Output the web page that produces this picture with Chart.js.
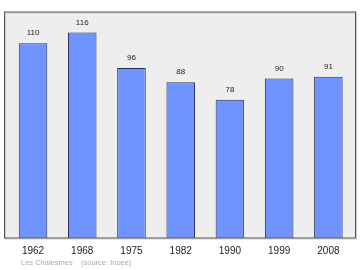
<!DOCTYPE html>
<html>
<head>
<meta charset="utf-8">
<script src="https://cdn.jsdelivr.net/npm/chart.js@4"></script>
<style>
  html, body { margin: 0; padding: 0; background: #fff; }
  #wrap { width: 360px; height: 270px; }
</style>
</head>
<body>
<div id="wrap"><canvas id="popChart" width="360" height="270"></canvas></div>
<script>
const years = ['1962', '1968', '1975', '1982', '1990', '1999', '2008'];
const population = [110, 116, 96, 88, 78, 90, 91];
const caption = 'Les Chalesmes    (source: Insee)';

const fontName = '"Liberation Sans", Arial, sans-serif';

// plot frame + light background, a bit wider than the bar area
const framePlugin = {
  id: 'frame',
  beforeDatasetsDraw(chart) {
    const { ctx, chartArea: a } = chart;
    const left = 4.5, right = 355.5;
    ctx.save();
    ctx.fillStyle = '#eeeeee';
    ctx.fillRect(left, a.top, right - left, a.bottom - a.top);
    ctx.restore();
  },
  afterDatasetsDraw(chart) {
    const { ctx, chartArea: a } = chart;
    const left = 4.5, right = 355.5;
    ctx.save();
    ctx.strokeStyle = '#cccccc';
    ctx.lineWidth = 1;
    ctx.strokeRect(left + 1, a.top + 1, right - left, a.bottom - a.top);
    ctx.strokeStyle = '#555555';
    ctx.strokeRect(left, a.top, right - left, a.bottom - a.top);
    ctx.restore();
  }
};

// numbers above each bar and the caption under the axis
const labelsPlugin = {
  id: 'valueLabels',
  afterDraw(chart) {
    const { ctx } = chart;
    const meta = chart.getDatasetMeta(0);
    ctx.save();
    ctx.fillStyle = '#222222';
    ctx.font = '8px ' + fontName;
    ctx.textAlign = 'center';
    ctx.textBaseline = 'middle';
    meta.data.forEach((bar, i) => {
      ctx.fillText(population[i], bar.x, bar.y - 10);
    });
    ctx.fillStyle = '#aaaaaa';
    ctx.font = '7.5px ' + fontName;
    ctx.textAlign = 'left';
    ctx.fillText(caption, 21, 262.5);
    ctx.restore();
  }
};

new Chart(document.getElementById('popChart'), {
  type: 'bar',
  data: {
    labels: years,
    datasets: [{
      data: population,
      backgroundColor: '#7094ff',
      borderColor: '#2a2f4a',
      borderWidth: 1,
      borderSkipped: 'bottom',
      barPercentage: 0.58,
      categoryPercentage: 1.0
    }]
  },
  options: {
    responsive: false,
    animation: false,
    events: [],
    layout: { padding: { left: 8.4, right: 7, top: 12, bottom: 6 } },
    plugins: {
      legend: { display: false },
      tooltip: { enabled: false }
    },
    scales: {
      x: {
        grid: { display: false, drawTicks: false },
        border: { display: false },
        ticks: {
          color: '#222222',
          padding: 7,
          font: { family: fontName, size: 10 }
        }
      },
      y: {
        display: false,
        min: 0,
        max: 127.6
      }
    }
  },
  plugins: [framePlugin, labelsPlugin]
});
</script>
</body>
</html>
